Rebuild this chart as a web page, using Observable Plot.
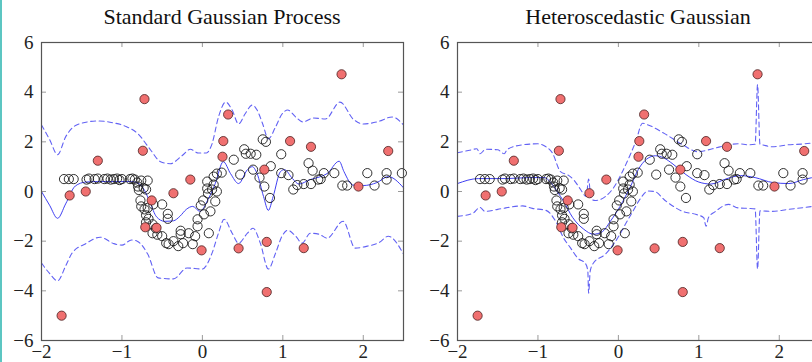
<!DOCTYPE html>
<html><head><meta charset="utf-8">
<script src="https://cdn.jsdelivr.net/npm/d3@7"></script>
<script src="https://cdn.jsdelivr.net/npm/@observablehq/plot@0.6"></script>
<style>
html,body{margin:0;padding:0;background:#fff;overflow:hidden;width:812px;height:362px;}
#wrap{position:relative;width:812px;height:362px;overflow:hidden;background:#fff;}
.title{position:absolute;top:6px;width:362px;font-family:"Liberation Serif",serif;font-size:22px;line-height:22px;color:#111;text-align:center;white-space:nowrap;}
.panel{position:absolute;top:0;width:420px;height:362px;}
.panel svg{max-width:none !important;width:420px;height:362px;}
#edge{position:absolute;left:0;top:0;width:2px;height:362px;background:#5cc6c2;}
</style></head><body>
<div id="wrap">
  <div class="title" style="left:41px">Standard Gaussian Process</div>
  <div class="title" style="left:457px">Heteroscedastic Gaussian</div>
  <div class="panel" id="p1" style="left:0px"></div>
  <div class="panel" id="p2" style="left:416px"></div>
  <div id="edge"></div>
</div>
<script>
// ---- data ----
const titles = ["Standard Gaussian Process", "Heteroscedastic Gaussian"];
const xTicks = [-2, -1, 0, 1, 2];
const yTicks = [-6, -4, -2, 0, 2, 4, 6];

// observed inliers (open black circles)
const inX = [-1.72,-1.66,-1.60,-1.44,-1.41,-1.34,-1.30,-1.22,-1.18,-1.14,-1.10,-1.06,-1.03,-1.00,
  -0.90,-0.87,-0.84,-0.81,-0.80,-0.79,-0.76,-0.73,-0.70,-0.68,
  -0.77,-0.76,-0.72,-0.68,-0.70,-0.67,-0.70,-0.62,-0.61,-0.50,-0.43,-0.43,-0.58,-0.62,-0.56,-0.50,
  -0.45,-0.42,-0.36,-0.30,-0.24,-0.27,-0.27,-0.17,-0.12,-0.09,-0.06,-0.06,
  -0.02,0.01,0.02,0.08,0.10,0.07,0.06,0.06,0.12,0.14,0.16,0.18,0.14,0.18,0.24,
  0.39,0.47,0.52,0.54,0.60,0.67,0.75,0.79,0.63,0.71,0.77,0.85,0.84,0.98,0.98,1.07,1.13,1.18,1.26,
  1.32,1.37,1.35,1.44,1.47,1.51,1.64,1.74,1.80,2.05,2.14,2.29,2.29,2.48];
const inY = [0.50,0.50,0.50,0.48,0.52,0.50,0.52,0.50,0.52,0.48,0.50,0.52,0.46,0.50,
  0.50,0.52,0.48,0.36,0.20,0.06,0.44,0.14,0.08,0.44,
  -0.36,-0.60,-0.72,-0.66,-0.96,-1.10,-1.24,-1.32,-0.52,-0.52,-0.90,-1.10,-1.48,-1.68,-1.74,-1.80,
  -2.08,-2.12,-2.00,-2.20,-2.08,-1.72,-1.58,-1.68,-2.12,-1.80,-1.40,-1.12,
  -0.56,-0.36,-0.92,-1.68,-0.80,-0.08,0.12,0.40,0.08,0.28,-0.40,0.00,0.60,0.72,0.76,
  1.28,0.68,1.70,1.52,1.52,1.48,2.10,2.00,0.88,0.56,0.20,1.02,-0.26,1.50,0.74,0.66,0.08,0.26,0.30,
  1.14,0.84,0.30,0.48,0.50,0.74,0.74,0.24,0.24,0.74,0.24,0.74,0.48,0.74];

// outliers (red filled circles)
const outX = [-1.75,-1.65,-1.45,-1.30,-0.74,-0.72,-0.71,-0.63,-0.57,-0.36,-0.15,-0.01,0.25,0.26,0.32,
  0.45,0.77,0.80,0.80,1.09,1.26,1.35,1.73,1.94,2.31];
const outY = [-5.00,-0.16,0.00,1.24,1.64,3.72,-1.44,-0.36,-1.46,-0.07,0.48,-2.37,1.40,2.03,3.10,
  -2.29,0.88,-2.03,-4.05,2.03,-2.28,1.80,4.72,0.20,1.63];

// standard GP: mean and ±2σ band
const gpMeanX = [-2.00,-1.90,-1.80,-1.70,-1.58,-1.45,-1.30,-1.10,-0.88,-0.78,-0.72,-0.65,-0.57,-0.47,-0.36,
  -0.28,-0.20,-0.12,-0.03,0.07,0.16,0.26,0.35,0.45,0.56,0.62,0.68,0.76,0.82,0.88,0.97,1.02,1.12,1.20,
  1.34,1.47,1.55,1.70,1.76,1.87,2.00,2.17,2.31,2.50];
const gpMeanY = [0.00,-0.55,-1.08,-0.50,0.22,0.38,0.40,0.40,0.40,0.30,0.05,-0.45,-1.02,-1.20,-1.18,
  -1.00,-0.72,-0.60,-0.80,-0.32,0.32,1.20,0.72,0.32,0.88,1.00,0.72,-0.20,-0.76,-0.20,0.80,0.88,0.52,0.30,
  0.48,0.60,0.72,1.22,0.80,0.26,0.24,0.36,0.60,0.15];
const gpUpX = [-2.00,-1.90,-1.80,-1.70,-1.55,-1.30,-1.10,-0.95,-0.80,-0.65,-0.52,-0.40,-0.25,-0.15,-0.05,
  0.05,0.12,0.20,0.29,0.37,0.45,0.53,0.62,0.68,0.75,0.82,0.91,0.99,1.06,1.16,1.25,1.38,1.53,1.71,1.88,
  2.00,2.17,2.36,2.50];
const gpUpY = [2.68,2.10,1.48,2.20,2.70,2.84,2.76,2.62,2.32,1.70,1.20,1.12,1.45,1.70,1.55,
  1.55,1.92,3.00,3.60,3.28,2.72,3.12,3.48,3.28,2.72,2.12,2.60,3.12,3.28,3.00,2.80,2.96,2.92,3.60,2.90,
  2.72,2.80,3.00,2.68];
const gpLoX = [-2.00,-1.90,-1.80,-1.70,-1.62,-1.45,-1.27,-1.10,-1.00,-0.88,-0.81,-0.68,-0.55,-0.36,-0.19,
  0.00,0.12,0.20,0.27,0.37,0.45,0.56,0.63,0.72,0.82,0.91,0.99,1.06,1.16,1.24,1.34,1.45,1.55,1.75,1.90,
  2.05,2.20,2.31,2.50];
const gpLoY = [-2.88,-3.30,-3.60,-3.00,-2.48,-2.10,-1.84,-2.10,-2.16,-1.95,-2.00,-2.52,-3.48,-3.52,-3.08,
  -3.12,-2.48,-1.68,-1.12,-1.68,-2.08,-1.68,-1.48,-2.08,-3.12,-2.48,-1.80,-1.56,-1.80,-2.08,-1.68,-1.72,-1.88,-1.20,-2.28,
  -2.20,-2.05,-1.80,-2.52];

// heteroscedastic GP: mean and band
const hgMeanX = [-2.00,-1.74,-1.40,-1.10,-0.92,-0.84,-0.76,-0.68,-0.57,-0.43,-0.31,-0.20,-0.10,0.02,0.15,
  0.25,0.35,0.46,0.56,0.68,0.84,1.00,1.15,1.35,1.52,1.70,1.92,2.12,2.30,2.50];
const hgMeanY = [0.32,0.52,0.52,0.56,0.56,0.36,0.00,-0.40,-1.04,-1.52,-1.72,-1.62,-1.20,-0.60,0.20,
  0.90,1.30,1.44,1.36,1.10,0.68,0.38,0.30,0.52,0.64,0.56,0.36,0.32,0.48,0.62];
const hgUpX = [-2.00,-1.85,-1.76,-1.72,-1.65,-1.50,-1.42,-1.38,-1.19,-1.00,-0.90,-0.82,-0.72,-0.62,-0.55,
  -0.47,-0.40,-0.37,-0.34,-0.29,-0.16,-0.05,0.05,0.15,0.22,0.30,0.37,0.58,0.80,0.99,1.17,1.37,1.49,1.62,
  1.70,1.73,1.76,1.79,1.91,2.11,2.32,2.50];
const hgUpY = [1.56,1.66,1.72,1.52,1.70,1.68,1.52,1.70,1.88,1.92,1.80,1.55,0.80,0.65,0.45,
  0.08,-0.20,0.50,-0.30,-0.36,-0.20,0.20,0.80,1.50,2.05,2.75,2.68,2.32,1.88,1.60,1.72,1.88,1.92,1.88,
  1.90,4.30,1.90,1.88,1.80,1.88,1.92,2.00];
const hgLoX = [-2.00,-1.81,-1.72,-1.66,-1.50,-1.40,-1.19,-1.07,-0.90,-0.78,-0.68,-0.60,-0.50,-0.41,-0.38,
  -0.37,-0.35,-0.31,-0.16,-0.06,0.02,0.09,0.18,0.27,0.37,0.45,0.58,0.80,0.96,1.06,1.09,1.12,1.20,1.37,
  1.49,1.62,1.70,1.73,1.76,1.91,2.11,2.32,2.50];
const hgLoY = [-1.00,-0.88,-0.64,-0.80,-0.72,-0.66,-0.58,-0.68,-0.76,-1.20,-1.88,-2.25,-2.70,-2.90,-3.20,
  -4.10,-3.20,-2.88,-2.52,-2.12,-1.72,-1.30,-0.80,-0.30,0.02,0.00,-0.36,-0.80,-0.92,-1.05,-1.40,-1.05,-0.82,-0.52,
  -0.66,-0.68,-0.70,-3.12,-0.78,-0.80,-0.72,-0.64,-0.56];

// ---- drawing ----
const zip = (xs, ys) => xs.map((x, i) => ({x, y: ys[i]}));
const fmt = d => d < 0 ? "\u2212" + Math.abs(d) : String(d);
const solidBlue = "#3f3ff2";
const dashBlue = "#6262f4";

function panel(meanX, meanY, upX, upY, loX, loY) {
  const W = 420, H = 362, mL = 41, mR = 17, mT = 42, mB = 22;
  const pw = W - mL - mR, ph = H - mT - mB;
  return Plot.plot({
    width: W, height: H,
    marginLeft: mL, marginRight: mR, marginTop: mT, marginBottom: mB,
    style: {fontFamily: "'Liberation Serif', serif", fontSize: "19px", color: "#222", background: "transparent", overflow: "visible", maxWidth: "none"},
    x: {domain: [-2, 2.5], ticks: xTicks, tickSize: 0, tickPadding: 4, tickFormat: fmt, label: null},
    y: {domain: [-6, 6], ticks: yTicks, tickSize: 0, tickPadding: 8, tickFormat: fmt, label: null},
    marks: [
      Plot.line(zip(upX, upY), {x: "x", y: "y", stroke: dashBlue, strokeWidth: 1.1, strokeDasharray: "5 3.5", curve: "monotone-x"}),
      Plot.line(zip(loX, loY), {x: "x", y: "y", stroke: dashBlue, strokeWidth: 1.1, strokeDasharray: "5 3.5", curve: "monotone-x"}),
      Plot.line(zip(meanX, meanY), {x: "x", y: "y", stroke: solidBlue, strokeWidth: 1, curve: "monotone-x"}),
      Plot.dot(zip(inX, inY), {x: "x", y: "y", r: 4.6, stroke: "#1a1a1a", strokeWidth: 0.9, fill: "none"}),
      Plot.dot(zip(outX, outY), {x: "x", y: "y", r: 4.6, stroke: "#4a2020", strokeWidth: 0.8, fill: "#f07070"}),
      Plot.tickX(xTicks, {x: d => d, insetTop: ph - 5, stroke: "#9a9a9a"}),
      Plot.tickX(xTicks, {x: d => d, insetBottom: ph - 5, stroke: "#9a9a9a"}),
      Plot.tickY(yTicks, {y: d => d, insetRight: pw - 5, stroke: "#9a9a9a"}),
      Plot.tickY(yTicks, {y: d => d, insetLeft: pw - 5, stroke: "#9a9a9a"}),
      Plot.frame({stroke: "#555", strokeWidth: 1.2})
    ]
  });
}

document.getElementById("p1").appendChild(panel(gpMeanX, gpMeanY, gpUpX, gpUpY, gpLoX, gpLoY));
document.getElementById("p2").appendChild(panel(hgMeanX, hgMeanY, hgUpX, hgUpY, hgLoX, hgLoY));
</script>
</body></html>
